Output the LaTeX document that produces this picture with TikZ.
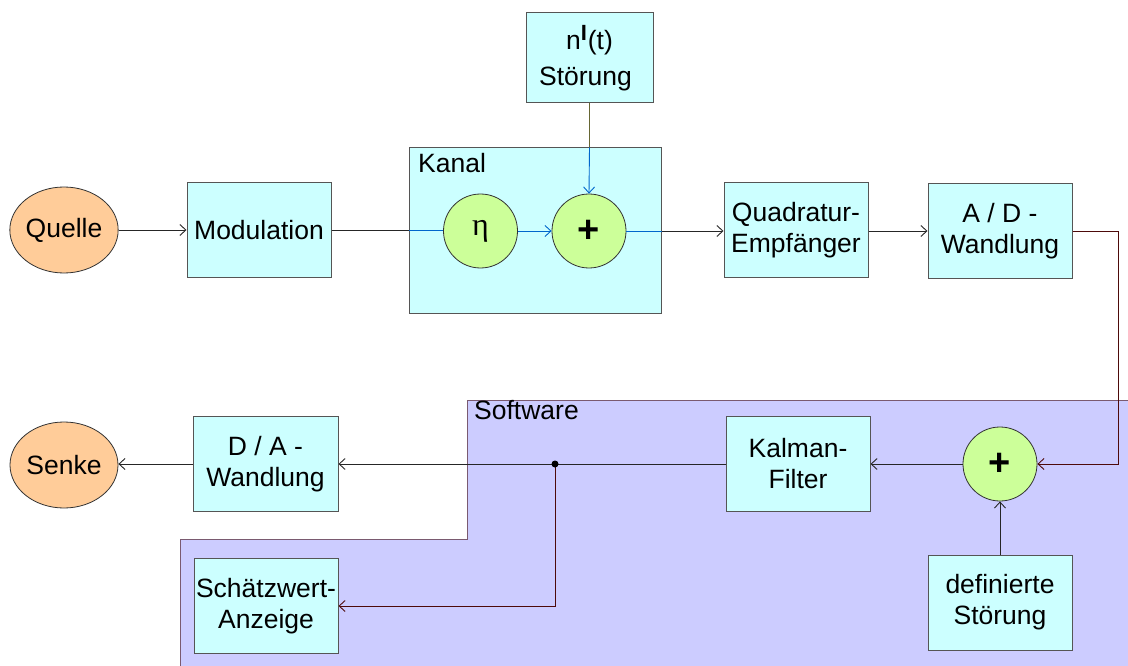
\documentclass[tikz,border=0pt]{standalone}
\usepackage{fontspec}
\setmainfont{Liberation Sans}
\newfontfamily\etafont{Liberation Serif}
\usetikzlibrary{shapes.geometric,arrows.meta,calc}
\definecolor{boxfill}{HTML}{CCFFFF}
\definecolor{boxline}{HTML}{555555}
\definecolor{circfill}{HTML}{CCFF99}
\definecolor{ovalfill}{HTML}{FFCC99}
\definecolor{swfill}{HTML}{CCCCFF}
\definecolor{swline}{HTML}{7A5A70}
\definecolor{bluel}{HTML}{0066CC}
\definecolor{redl}{HTML}{4D0A0A}
\definecolor{olivel}{HTML}{666633}
\begin{document}
\begin{tikzpicture}[x=1pt,y=-1pt,
  every node/.style={font=\fontsize{26.5}{31}\selectfont},
  blockbox/.style={draw=boxline,line width=1pt,fill=boxfill,minimum width=144pt,minimum height=95pt,align=center,inner sep=0pt},
  sumcirc/.style={draw=black!80,line width=0.8pt,fill=circfill,circle,minimum size=74pt,inner sep=0pt},
  oval/.style={draw=black!80,line width=0.8pt,fill=ovalfill,ellipse,minimum width=108pt,minimum height=86pt,inner sep=0pt},
  conn/.style={line width=0.9pt,black!85},
  tip/.style={-{Straight Barb[length=6pt,width=11pt]}}
]
\clip (0,0) rectangle (1128,666);
\fill[white] (0,0) rectangle (1128,666);
% Software region
\path[fill=swfill] (467,400) -- (1132,400) -- (1132,670) -- (180,670) -- (180,539) -- (467,539) -- cycle;
\draw[swline,line width=1pt] (1132,400) -- (467,400) -- (467,539) -- (180,539) -- (180,670);
\node[anchor=north west,inner sep=0pt] (swlabel) at (474,400) {Software};
% Kanal
\node[draw=boxline,line width=1pt,fill=boxfill,minimum width=252pt,minimum height=165pt,inner sep=0pt] (kanal) at (535,230.5) {};
\node[anchor=north west,inner sep=0pt] (kanallabel) at (418,153) {Kanal};
% Nodes
\node[oval] (quelle) at (64,230) {Quelle};
\node[blockbox] (mod) at (259,230) {Modulation};
\node[sumcirc] (eta) at (480.5,231) {\etafont\fontsize{32}{32}\selectfont η};
\node[sumcirc] (plus1) at (589,231) {\fontsize{38}{38}\selectfont\textbf{+}};
\node[blockbox,minimum width=127pt,minimum height=90pt] (stoer) at (589.5,58) {n\raisebox{0.6ex}{\fontsize{22}{22}\selectfont\textbf{I}}\kern1pt(t)\\[5pt]Störung\kern8pt};
\node[blockbox] (quad) at (796,230) {Quadratur-\\Empfänger};
\node[blockbox] (ad) at (1000,231) {A / D -\\Wandlung};
\node[sumcirc] (plus2) at (1000,464) {\fontsize{38}{38}\selectfont\textbf{+}};
\node[blockbox] (kalman) at (798,464) {Kalman-\\Filter};
\node[blockbox] (def) at (1000,602.5) {definierte\\Störung};
\node[blockbox,minimum width=145pt] (da) at (265.5,464) {D / A -\\Wandlung};
\node[oval] (senke) at (64,465) {Senke};
\node[blockbox] (schaetz) at (266,606) {Schätzwert-\\Anzeige};
\coordinate (dot) at (555,464);
\coordinate (turn) at (1118,231);
% Connectors
\draw[conn,tip] (quelle.east) -- (mod.west);
\draw[conn] (mod.east) -- (kanal.west |- mod.east);
\draw[bluel,line width=0.9pt] (kanal.west |- mod.east) -- (eta.west |- mod.east);
\draw[bluel,line width=0.9pt,tip] (eta.east) -- (plus1.west);
\draw[olivel,line width=0.9pt] (stoer.south) -- (stoer.south |- kanal.north);
\draw[bluel,line width=0.9pt,tip] (stoer.south |- kanal.north) -- (plus1.north);
\draw[bluel,line width=0.9pt] (plus1.east) -- (kanal.east |- plus1.east);
\draw[conn,tip] (kanal.east |- plus1.east) -- (quad.west |- plus1.east);
\draw[conn,tip] (quad.east |- ad.west) -- (ad.west);
\draw[redl,line width=0.9pt,tip] (ad.east) -- (turn) |- (plus2.east);
\draw[conn,tip] (plus2.west) -- (kalman.east);
\draw[conn,tip] (def.north) -- (plus2.south);
\draw[conn,tip] (kalman.west) -- (da.east);
\draw[conn,tip] (da.west) -- (senke.east |- da.west);
\draw[redl,line width=0.9pt,tip] (dot) |- (schaetz.east);
\fill[black] (dot) circle (3.5pt);
\end{tikzpicture}
\end{document}
